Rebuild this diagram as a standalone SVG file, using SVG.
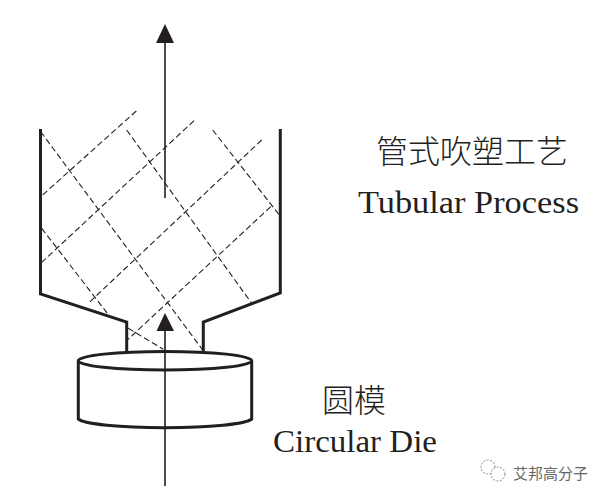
<svg xmlns="http://www.w3.org/2000/svg" width="607" height="499" viewBox="0 0 607 499">
<style>
.thick{fill:none;stroke:#231f20;stroke-width:3}
.axis{fill:none;stroke:#231f20;stroke-width:1.6}
.head{fill:#231f20}
.dash{fill:none;stroke:#231f20;stroke-width:1.1;stroke-dasharray:6 3.2}
.en{font-family:"Liberation Serif",serif;font-size:32px;fill:#231f20}
.cn{font-family:"Noto Sans CJK SC",sans-serif;font-size:32px;font-weight:300;fill:#231f20}
.wm{font-family:"Noto Sans CJK SC",sans-serif;font-size:15px;fill:#666}
.ic{fill:#fff;stroke:#888;stroke-width:1;stroke-dasharray:2 1.5}
</style>
<rect width="607" height="499" fill="#fff"/>
<g id="connectors">
<path class="dash" d="M136.3 111L40.7 196.7M194 120.7L40.7 263.3M261.7 140L88.3 303.3M270.7 206.7L127.3 340"/>
<path class="dash" d="M40.7 131.7L202.7 350M126.7 130L251.7 303.3M212.7 130L279.3 215M41.7 228.3L107.3 313.3M128.3 328.3L163.3 349.3"/>
</g>
<g id="tube"><path class="thick" d="M40.5 129V294L126.7 322V352M280.3 129V293L203.3 322V351"/></g>
<g id="die">
<path d="M78.3 360.7V419C84 424 120 427.7 165 427.7S246 424 251.7 419V360.7" class="thick"/>
<ellipse cx="165" cy="360.7" rx="86.7" ry="9.3" class="thick" fill="#fff" style="fill:#fff"/>
</g>
<g id="arrow-top"><path class="axis" d="M165 198V40"/><path class="head" d="M165 24L174 43H156Z"/></g>
<g id="arrow-bottom"><path class="axis" d="M165 486V328"/><path class="head" d="M165 313L174 331H156.500Z"/></g>
<g id="label-tubular">
<text class="cn" x="376" y="163" textLength="192" lengthAdjust="spacingAndGlyphs">管式吹塑工艺</text>
<text class="en" x="358" y="213" textLength="221" lengthAdjust="spacingAndGlyphs">Tubular Process</text>
</g>
<g id="label-die">
<text class="cn" x="322" y="412" textLength="64" lengthAdjust="spacingAndGlyphs">圆模</text>
<text class="en" x="273" y="452" textLength="164" lengthAdjust="spacingAndGlyphs">Circular Die</text>
</g>
<g id="watermark">
<circle class="ic" cx="488" cy="467" r="7"/>
<circle class="ic" cx="498" cy="474" r="7"/>
<text class="wm" x="513" y="479" textLength="75" lengthAdjust="spacingAndGlyphs">艾邦高分子</text>
</g>
</svg>
